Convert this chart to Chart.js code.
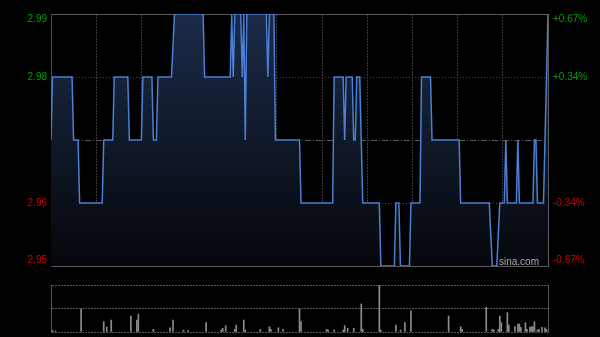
<!DOCTYPE html>
<html><head><meta charset="utf-8">
<script src="https://cdn.jsdelivr.net/npm/chart.js@4.4.1/dist/chart.umd.min.js"></script>
<style>
html,body{margin:0;padding:0;background:#000;width:600px;height:337px;overflow:hidden;}
#wrap{position:relative;width:600px;height:337px;background:#000;}
#pc{position:absolute;left:0;top:0;}
#vc{position:absolute;left:0;top:275px;}
#wm{position:absolute;left:499px;top:256px;font:10px "Liberation Sans",Arial,sans-serif;line-height:12px;color:#aaa;}
</style></head><body>
<div id="wrap">
<canvas id="pc" width="600" height="275"></canvas>
<canvas id="vc" width="600" height="62"></canvas>
<div id="wm">sina.com</div>
</div>
<script>
// ---- data (minutes since 09:30, trading time; 330 = close) ----
const minutes = [0,1,14,15,18,19,34,35,41,42,51,52,60,61,67,68,70,71,80,82,
  101,102,119,120,121,122,126,127,128,129,130,143,144,145,148,149,165,166,
  187,188,194,195,196,200,201,202,203,205,207,218,219,228,229,231,232,238,239,
  245,246,252,253,271,272,291,293,296,298,301,302,303,309,310,311,320,321,322,323,327,330];
const prices = [2.97,2.98,2.98,2.97,2.97,2.96,2.96,2.97,2.97,2.98,2.98,2.97,2.97,2.98,2.98,2.97,2.97,2.98,2.98,2.99,
  2.99,2.98,2.98,2.99,2.98,2.99,2.99,2.98,2.99,2.97,2.99,2.99,2.98,2.99,2.99,2.97,2.97,2.96,
  2.96,2.98,2.98,2.97,2.98,2.98,2.97,2.97,2.98,2.98,2.96,2.96,2.95,2.95,2.96,2.96,2.95,2.95,2.96,
  2.96,2.98,2.98,2.97,2.97,2.96,2.96,2.95,2.95,2.96,2.96,2.97,2.96,2.96,2.97,2.96,2.96,2.97,2.97,2.96,2.96,2.99];
const volMinutes = [1,3,20,35,37,40,53,57,58,68,79,81,88,91,103,113,114,116,122,123,128,129,139,145,146,151,154,
  165,166,183,184,188,194,195,197,201,206,207,218,219,229,232,235,239,264,272,273,289,293,294,297,298,299,
  303,304,308,310,311,312,315,316,318,319,320,321,323,324,326,328,329];
const volumes = [30,20,490,220,105,255,340,255,375,57,90,255,42,36,198,42,78,134,57,149,255,42,57,113,57,90,57,
  490,220,57,42,42,42,134,78,78,596,57,1000,42,149,42,198,453,340,113,57,525,57,42,57,340,198,
  411,149,113,170,170,100,198,57,100,113,113,220,42,57,100,90,57];
const yTickValues = [2.95,2.96,2.97,2.98,2.99];
const leftTickLabels = ['2.95','2.96','','2.98','2.99'];
const rightTickLabels = ['-0.67%','-0.34%','','+0.34%','+0.67%'];
const prevClose = 2.97;
const xGridMinutes = [0,30,60,90,120,150,180,210,240,270,300,330];
const volTickValues = [0,500,1000];

const FONT = 'Liberation Sans, Arial, sans-serif';
const tickLabel = (labels) => (v, i) => {
  const l = labels[i];
  if (i === labels.length - 1) return ['', l];
  if (i === 0) return [l, ''];
  return l;
};
const tickColor = ctx => (ctx.tick && ctx.tick.value > prevClose) ? '#00a000' : '#d00000';
const setTicks = vals => s => { s.ticks = vals.map(v => ({value: v})); };
const fixW = w => s => { s.width = w; s.paddingTop = 0; s.paddingBottom = 0; };
const fixH = s => { s.height = 0; s.paddingLeft = 0; s.paddingRight = 0; };

new Chart(document.getElementById('pc'), {
  type: 'line',
  data: { datasets: [{
    data: minutes.map((m, i) => ({x: m, y: prices[i]})),
    borderColor: '#4a7fd6', borderWidth: 1.5, pointRadius: 0, tension: 0,
    fill: 'start',
    backgroundColor: ctx => {
      const a = ctx.chart.chartArea;
      if (!a) return 'rgba(20,35,60,0.6)';
      const g = ctx.chart.ctx.createLinearGradient(0, a.top, 0, a.bottom);
      g.addColorStop(0, '#1b2b48');
      g.addColorStop(1, '#05070b');
      return g;
    }
  }]},
  options: {
    responsive: false, animation: false, maintainAspectRatio: false,
    layout: { padding: { top: 14, bottom: 9, left: 0, right: 0 } },
    plugins: { legend: { display: false }, tooltip: { enabled: false } },
    scales: {
      x: {
        type: 'linear', min: 0, max: 330, position: 'bottom',
        afterBuildTicks: setTicks(xGridMinutes),
        afterFit: fixH,
        ticks: { display: false },
        grid: { drawTicks: false, color: ctx => (ctx.index === 0 || ctx.index === xGridMinutes.length - 1) ? 'rgba(0,0,0,0)' : '#3a3a3a', lineWidth: 1 },
        border: { display: false, dash: [2, 1] }
      },
      y: {
        position: 'left', min: 2.95, max: 2.99,
        afterBuildTicks: setTicks(yTickValues),
        afterFit: fixW(51),
        ticks: { callback: tickLabel(leftTickLabels), color: tickColor, padding: 4, autoSkip: false,
                 font: { family: FONT, size: 10, lineHeight: 1.1 } },
        grid: { drawTicks: false,
          color: ctx => { const i = ctx.index; if (i === 0 || i === 4) return '#5a5a5a'; if (i === 2) return '#555'; return '#4a4a4a'; } },
        border: { display: true, color: '#4a4a4a', width: 1,
          dash: ctx => { const i = ctx.index; if (i === 2) return [6, 2, 1, 2]; if (i === 1 || i === 3) return [1, 2]; return []; } }
      },
      y2: {
        position: 'right', min: 2.95, max: 2.99,
        afterBuildTicks: setTicks(yTickValues),
        afterFit: fixW(52),
        ticks: { callback: tickLabel(rightTickLabels), color: tickColor, padding: 5, autoSkip: false,
                 font: { family: FONT, size: 10, lineHeight: 1.1 } },
        grid: { drawOnChartArea: false, drawTicks: false },
        border: { display: true, color: '#5a5a5a', width: 1 }
      }
    }
  }
});

new Chart(document.getElementById('vc'), {
  type: 'bar',
  data: { datasets: [{
    data: volMinutes.map((m, i) => ({x: m, y: volumes[i]})),
    backgroundColor: '#8c8c8c', barThickness: 1, borderWidth: 0
  }]},
  options: {
    responsive: false, animation: false, maintainAspectRatio: false,
    layout: { padding: { top: 10, bottom: 5, left: 0, right: 0 } },
    plugins: { legend: { display: false }, tooltip: { enabled: false } },
    scales: {
      x: {
        type: 'linear', min: 0, max: 330, offset: false,
        afterFit: fixH,
        ticks: { display: false },
        grid: { display: false, offset: false, drawTicks: false },
        border: { display: false }
      },
      y: {
        position: 'left', min: 0, max: 1000,
        afterBuildTicks: setTicks(volTickValues),
        afterFit: fixW(51),
        ticks: { display: false },
        grid: { drawTicks: false, color: '#555' },
        border: { display: true, color: '#555', width: 1, dash: ctx => (ctx.index === undefined ? [] : [2, 1]) }
      },
      y2: {
        position: 'right', min: 0, max: 1000,
        afterFit: fixW(52),
        ticks: { display: false },
        grid: { drawOnChartArea: false, drawTicks: false },
        border: { display: true, color: '#555', width: 1 }
      }
    }
  }
});
</script>
</body></html>
